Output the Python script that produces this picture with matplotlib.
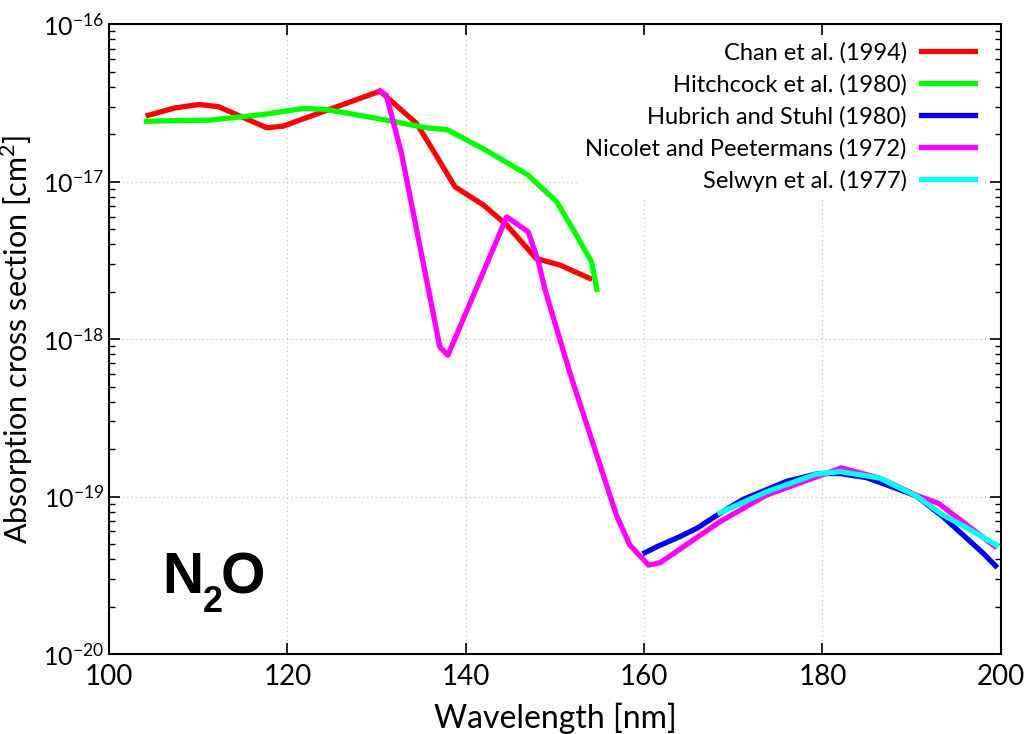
import numpy as np
import matplotlib
matplotlib.use("Agg")
import matplotlib.pyplot as plt
import matplotlib.transforms as mtransforms
from matplotlib.ticker import LogLocator, NullFormatter, MultipleLocator

# N2O absorption cross sections [cm^2] vs wavelength [nm]
chan_wl = [104.4, 107.4, 110.1, 112.3, 117.7, 119.5, 130.4, 134.5, 136.2, 138.8,
           142.0, 144.6, 147.9, 150.6, 153.9]
chan_xs = [2.64e-17, 2.94e-17, 3.09e-17, 2.99e-17, 2.20e-17, 2.25e-17, 3.76e-17,
           2.34e-17, 1.63e-17, 9.27e-18, 7.10e-18, 5.30e-18, 3.25e-18, 2.95e-18,
           2.43e-18]

hitch_wl = [104.2, 111.3, 117.3, 121.8, 124.4, 131.1, 135.6, 137.9, 142.3, 147.0,
            150.2, 152.2, 154.1, 154.7]
hitch_xs = [2.42e-17, 2.46e-17, 2.67e-17, 2.92e-17, 2.87e-17, 2.46e-17, 2.20e-17,
            2.14e-17, 1.58e-17, 1.10e-17, 7.45e-18, 4.80e-18, 3.10e-18, 2.07e-18]

hub_wl = [160.1, 161.6, 164.0, 165.9, 168.5, 171.1, 176.0, 179.5, 182.0, 184.9,
          186.8, 190.5, 193.5, 198.0, 199.4]
hub_xs = [4.40e-20, 4.85e-20, 5.56e-20, 6.28e-20, 7.82e-20, 9.59e-20, 1.25e-19,
          1.40e-19, 1.40e-19, 1.32e-19, 1.21e-19, 1.01e-19, 7.45e-20, 4.37e-20,
          3.63e-20]

nic_wl = [130.4, 131.1, 132.8, 137.1, 138.0, 144.6, 147.0, 148.1, 148.9, 151.7,
          156.9, 158.4, 160.5, 161.8, 168.5, 173.7, 182.1, 186.4, 190.5, 193.0,
          199.3]
nic_xs = [3.77e-17, 3.54e-17, 1.51e-17, 8.90e-19, 7.90e-19, 5.98e-18, 4.80e-18,
          3.18e-18, 2.05e-18, 6.05e-19, 7.60e-20, 4.92e-20, 3.67e-20, 3.80e-20,
          6.92e-20, 1.02e-19, 1.52e-19, 1.31e-19, 1.02e-19, 9.06e-20, 4.84e-20]

sel_wl = [168.5, 173.7, 179.3, 182.0, 186.4, 190.5, 193.5, 196.1, 199.5]
sel_xs = [7.89e-20, 1.07e-19, 1.39e-19, 1.44e-19, 1.31e-19, 1.01e-19, 7.64e-20,
          6.37e-20, 4.92e-20]

plt.rcParams['font.family'] = ['Lato', 'DejaVu Sans']
plt.rcParams['mathtext.fontset'] = 'custom'
plt.rcParams['mathtext.rm'] = 'Lato'

fig = plt.figure(figsize=(10.24, 7.34), dpi=100)
ax = fig.add_axes([0.1064, 0.109, 0.871, 0.858])

lw = 3.8
ax.plot(chan_wl, chan_xs, color='#ff0000', lw=lw, label='Chan et al. (1994)')
ax.plot(hitch_wl, hitch_xs, color='#00ff00', lw=lw, label='Hitchcock et al. (1980)')
ax.plot(hub_wl, hub_xs, color='#0000ee', lw=lw, label='Hubrich and Stuhl (1980)')
ax.plot(nic_wl, nic_xs, color='#ff00ff', lw=lw, label='Nicolet and Peetermans (1972)')
ax.plot(sel_wl, sel_xs, color='#00ffff', lw=lw, label='Selwyn et al. (1977)')

ax.set_yscale('log')
ax.set_xlim(100, 200)
ax.set_ylim(1e-20, 1e-16)
ax.xaxis.set_major_locator(MultipleLocator(20))
ax.yaxis.set_major_locator(LogLocator(base=10, numticks=10))
ax.yaxis.set_minor_locator(LogLocator(base=10, subs=np.arange(2, 10), numticks=20))
ax.yaxis.set_minor_formatter(NullFormatter())

ax.tick_params(which='both', direction='in', top=True, right=True)
ax.tick_params(axis='x', labelsize=20, pad=7)
ax.tick_params(axis='y', labelsize=18)
ax.tick_params(which='major', length=8, width=1.2)
ax.tick_params(which='minor', length=4.5, width=1.0)
for s in ax.spines.values():
    s.set_linewidth(1.5)

ax.grid(True, which='major', ls=(0, (1, 3)), color='#bbbbbb', lw=0.8)

ax.set_xlabel('Wavelength [nm]', fontsize=23, labelpad=9)
ax.set_ylabel('Absorption cross section [cm$^2$]', fontsize=22, labelpad=6)

leg = ax.legend(loc='upper right', bbox_to_anchor=(0.991, 1.0), fontsize=17,
                markerfirst=False, handlelength=2.3, frameon=True, framealpha=1,
                edgecolor='none', facecolor='white', fancybox=False,
                labelspacing=0.44, borderaxespad=0.45, handletextpad=0.6,
                borderpad=0.3)

# molecule label: N, subscript 2, O placed by pixel offsets
base = (0.060, 0.0968)
mol = dict(fontsize=41, fontweight='bold', family='Liberation Sans',
           ha='left', va='baseline')
ax.text(*base, 'N', transform=ax.transAxes, **mol)
ax.text(*base, '2', transform=mtransforms.offset_copy(ax.transAxes, fig=fig,
        x=40, y=-19, units='dots'), fontsize=26, fontweight='bold',
        family='Liberation Sans', ha='left', va='baseline')
ax.text(*base, 'O', transform=mtransforms.offset_copy(ax.transAxes, fig=fig,
        x=58, y=0, units='dots'), **mol)

fig.savefig('out.png', dpi=100)
